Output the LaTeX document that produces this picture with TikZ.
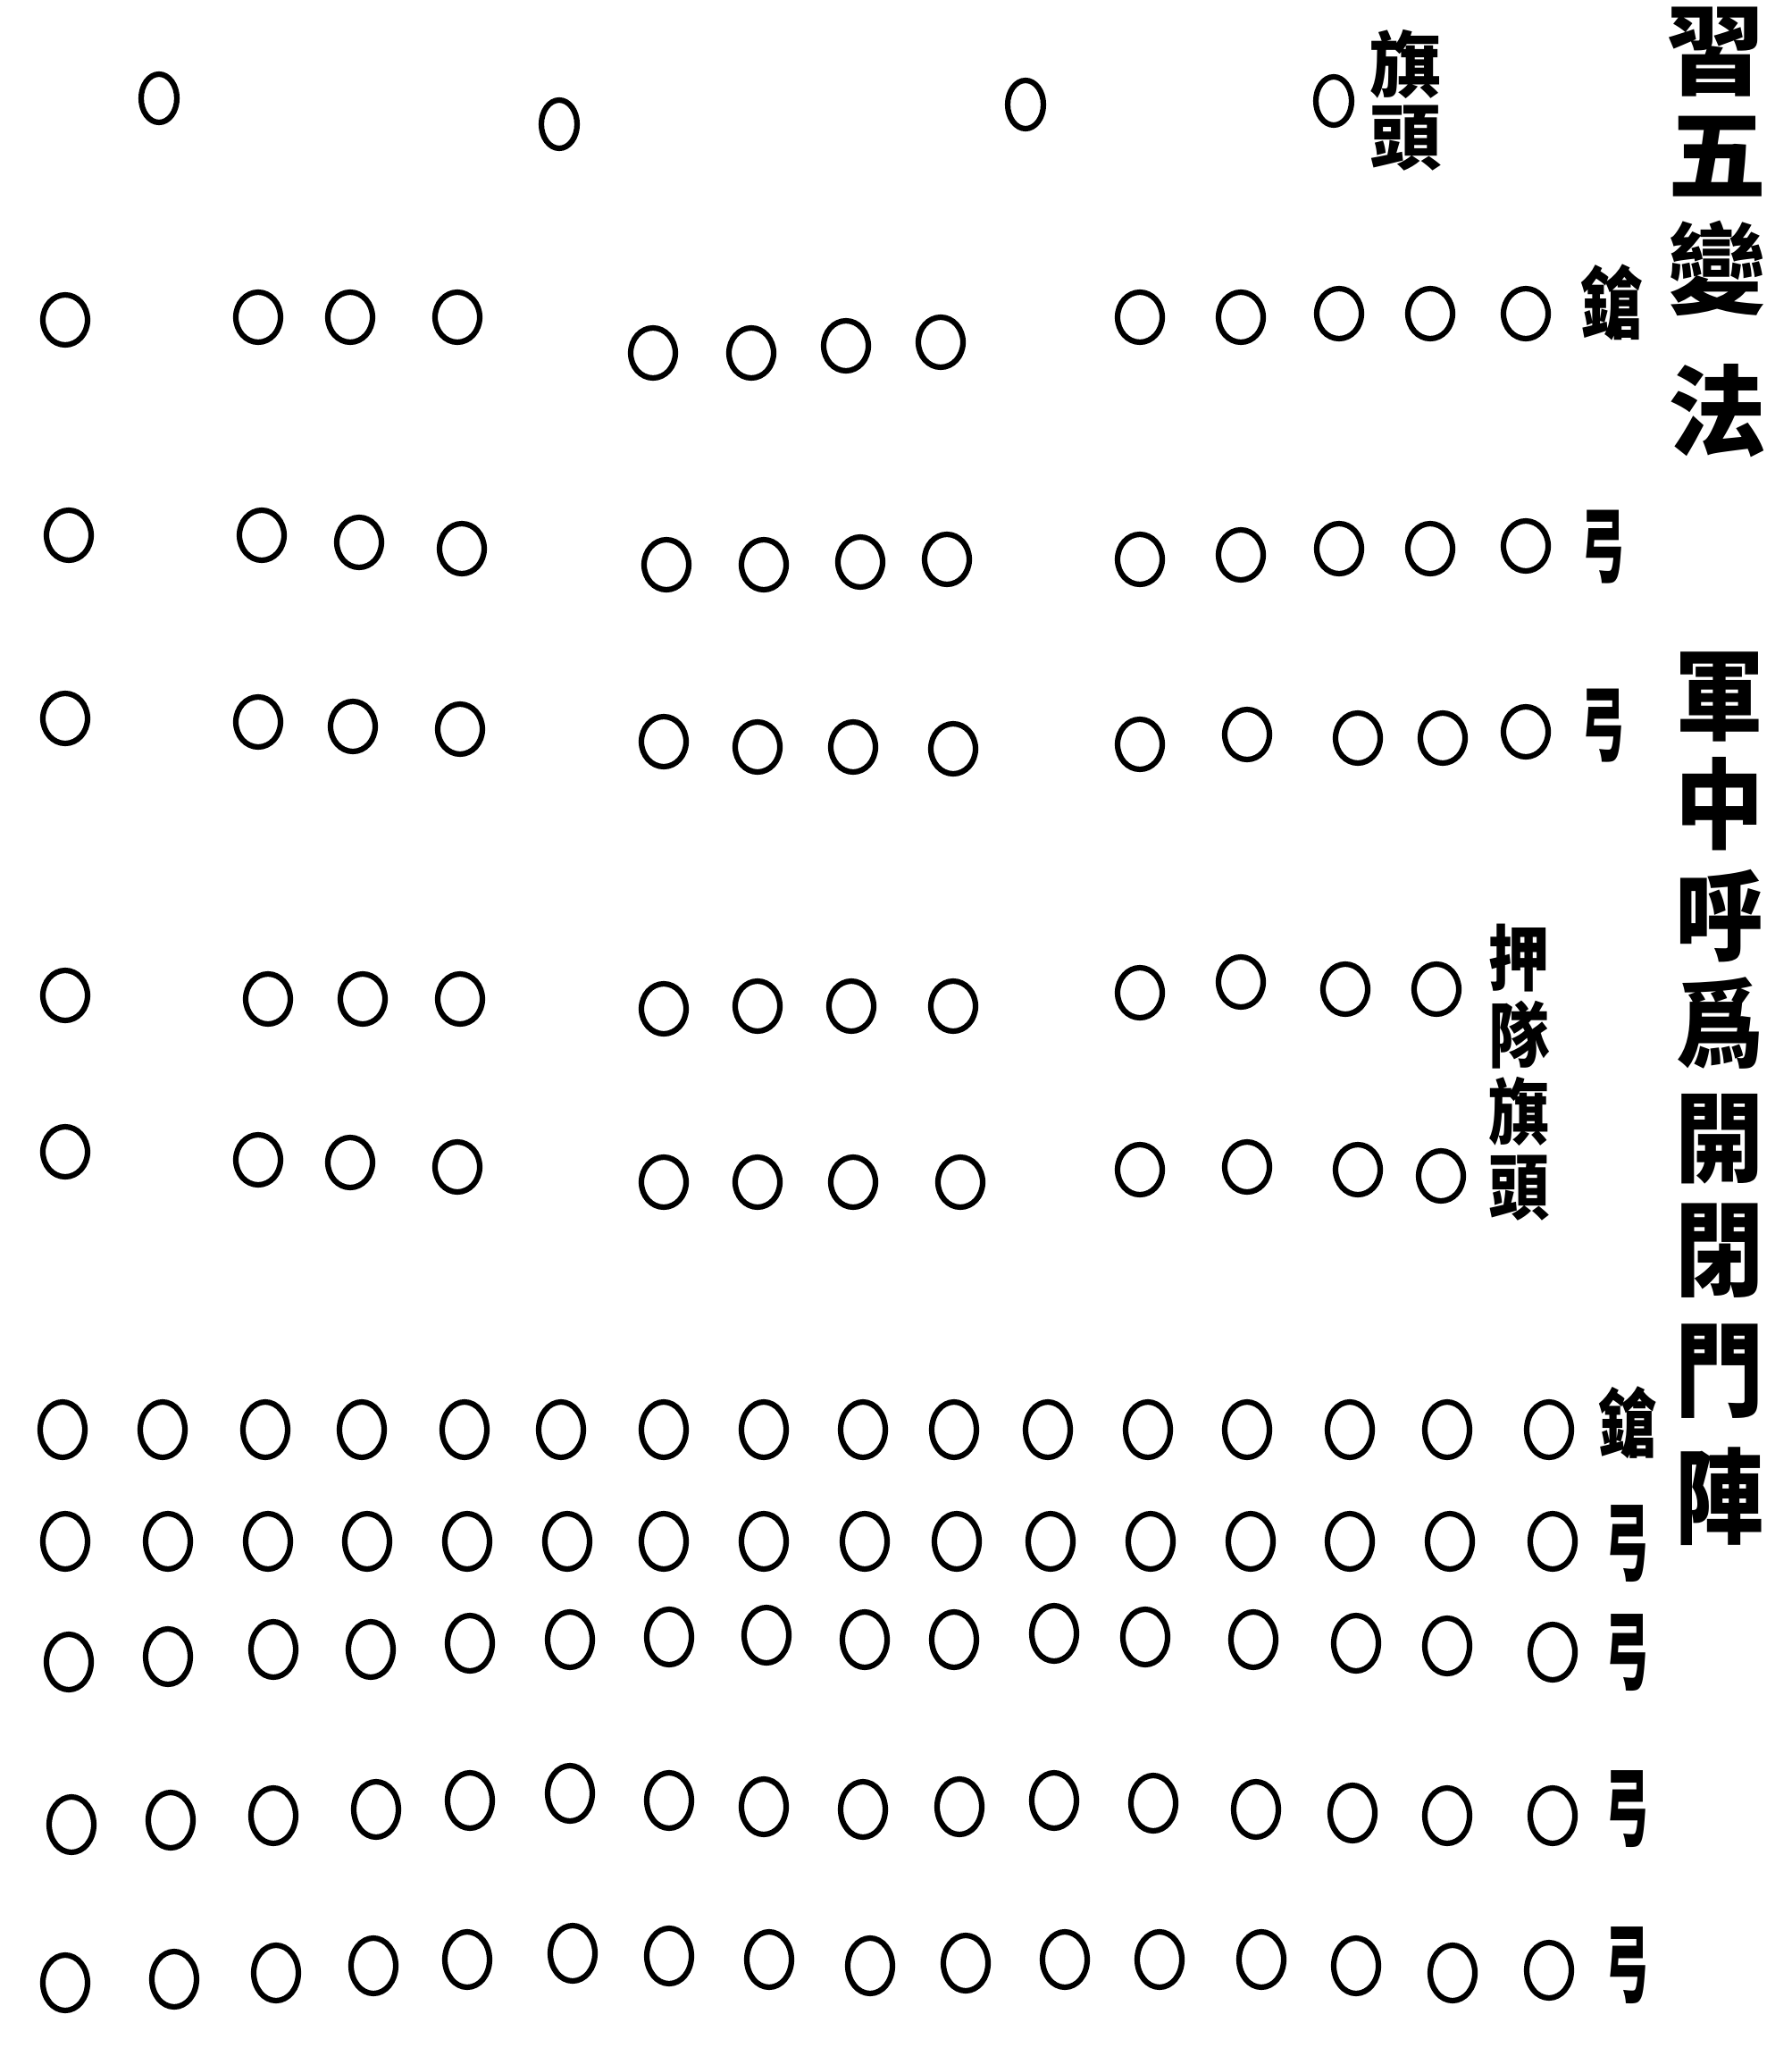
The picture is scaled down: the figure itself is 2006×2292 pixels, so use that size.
\documentclass[tikz,border=0pt]{standalone}
\usepackage{fontspec}
\newfontfamily\cjk{Noto Sans CJK TC}
\usetikzlibrary{shapes.geometric}
\begin{document}
\begin{tikzpicture}[x=0.5pt,y=-0.5pt,
  dot/.style={draw, ellipse, line width=3.1pt, minimum width=25pt, minimum height=28pt, inner sep=0pt},
  tdot/.style={dot, minimum width=25pt, minimum height=31pt},
  topdot/.style={dot, minimum width=20pt, minimum height=27pt},
  glyph/.style={inner sep=0pt, font=\cjk\bfseries\fontsize{44}{44}\selectfont},
  bigglyph/.style={inner sep=0pt, font=\cjk\bfseries\fontsize{55}{55}\selectfont},
  smallglyph/.style={inner sep=0pt, font=\cjk\bfseries\fontsize{40}{40}\selectfont}]
\fill[white] (0,0) rectangle (2006,2292);
% top flag-heads
\node[topdot] (t1) at (178,110) {};
\node[topdot] (t2) at (626,139) {};
\node[topdot] (t3) at (1148,117) {};
\node[topdot] (t4) at (1493,113) {};
\node[smallglyph] (qt1) at (1573,72) {旗};
\node[smallglyph] (qt2) at (1573,155) {頭};
% row 1
\foreach \x/\y [count=\i] in {73/358,289/355,392/355,512/355,731/395,841/395,947/387,1053/383,1276/355,1389/355,1499/351,1601/351,1708/351}
  \node[dot] (r1-\i) at (\x,\y) {};
\node[glyph] (l1) at (1805,338) {\scalebox{0.8}[1]{鎗}};
% row 2
\foreach \x/\y [count=\i] in {77/599,293/599,402/607,517/614,746/632,855/632,963/629,1060/626,1276/626,1389/621,1499/614,1601/614,1708/611}
  \node[dot] (r2-\i) at (\x,\y) {};
\node[glyph] (l2) at (1795,612) {\scalebox{0.55}[1.05]{弓}};
% row 3
\foreach \x/\y [count=\i] in {73/804,289/808,395/813,515/816,743/830,848/836,955/836,1067/838,1276/833,1396/822,1520/826,1615/826,1708/819}
  \node[dot] (r3-\i) at (\x,\y) {};
\node[glyph] (l3) at (1795,812) {\scalebox{0.55}[1.05]{弓}};
% row 4
\foreach \x/\y [count=\i] in {73/1114,300/1118,406/1118,515/1118,743/1129,848/1126,953/1126,1067/1126,1276/1111,1389/1099,1506/1107,1608/1107}
  \node[dot] (r4-\i) at (\x,\y) {};
% row 5
\foreach \x/\y [count=\i] in {73/1289,289/1298,392/1301,512/1306,743/1323,848/1323,955/1323,1075/1323,1276/1309,1396/1306,1520/1309,1613/1316}
  \node[dot] (r5-\i) at (\x,\y) {};
\node[smallglyph] (y1) at (1700,1072) {\scalebox{0.85}[1]{押}};
\node[smallglyph] (y2) at (1700,1158) {\scalebox{0.85}[1]{隊}};
\node[smallglyph] (y3) at (1700,1244) {\scalebox{0.85}[1]{旗}};
\node[smallglyph] (y4) at (1700,1330) {\scalebox{0.85}[1]{頭}};
% row 6
\foreach \x [count=\i] in {70,182,297,405,520,628,743,855,966,1068,1173,1285,1396,1511,1620,1734}
  \node[tdot] (r6-\i) at (\x,1600) {};
\node[glyph] (l6) at (1822,1592) {\scalebox{0.75}[0.95]{鎗}};
% row 7
\foreach \x [count=\i] in {73,188,300,411,523,635,743,855,968,1071,1176,1288,1400,1511,1623,1738}
  \node[tdot] (r7-\i) at (\x,1725) {};
\node[glyph] (l7) at (1822,1728) {\scalebox{0.55}[1.1]{弓}};
% row 8
\foreach \x/\y [count=\i] in {77/1860,188/1854,306/1846,415/1846,526/1839,638/1835,749/1832,858/1830,968/1835,1068/1835,1180/1828,1282/1832,1403/1835,1518/1839,1620/1842,1738/1849}
  \node[tdot] (r8-\i) at (\x,\y) {};
\node[glyph] (l8) at (1822,1850) {\scalebox{0.55}[1.1]{弓}};
% row 9
\foreach \x/\y [count=\i] in {80/2042,191/2037,306/2032,421/2025,526/2015,638/2007,749/2015,855/2022,966/2025,1074/2022,1180/2015,1291/2018,1406/2025,1514/2029,1620/2032,1738/2032}
  \node[tdot] (r9-\i) at (\x,\y) {};
\node[glyph] (l9) at (1822,2025) {\scalebox{0.55}[1.1]{弓}};
% row 10
\foreach \x/\y [count=\i] in {73/2219,195/2215,309/2208,418/2200,523/2193,641/2186,749/2189,861/2193,974/2200,1081/2197,1192/2193,1298/2193,1412/2193,1518/2200,1626/2208,1734/2205}
  \node[tdot] (r10-\i) at (\x,\y) {};
\node[glyph] (l10) at (1822,2200) {\scalebox{0.55}[1.1]{弓}};
% title column
\node[bigglyph] (h1) at (1920,58) {習};
\node[bigglyph] (h2) at (1922,175) {五};
\node[bigglyph] (h3) at (1922,300) {變};
\node[bigglyph] (h4) at (1922,460) {法};
% note column
\node[bigglyph] (n1) at (1925,780) {\scalebox{0.9}[1]{軍}};
\node[bigglyph] (n2) at (1925,900) {\scalebox{0.9}[1]{中}};
\node[bigglyph] (n3) at (1925,1025) {\scalebox{0.9}[1]{呼}};
\node[bigglyph] (n4) at (1925,1145) {\scalebox{0.9}[1]{爲}};
\node[bigglyph] (n5) at (1925,1275) {\scalebox{0.9}[1]{開}};
\node[bigglyph] (n6) at (1925,1400) {\scalebox{0.9}[1.05]{閉}};
\node[bigglyph] (n7) at (1925,1535) {\scalebox{0.9}[1.05]{門}};
\node[bigglyph] (n8) at (1925,1675) {\scalebox{0.9}[1.05]{陣}};
\end{tikzpicture}
\end{document}
